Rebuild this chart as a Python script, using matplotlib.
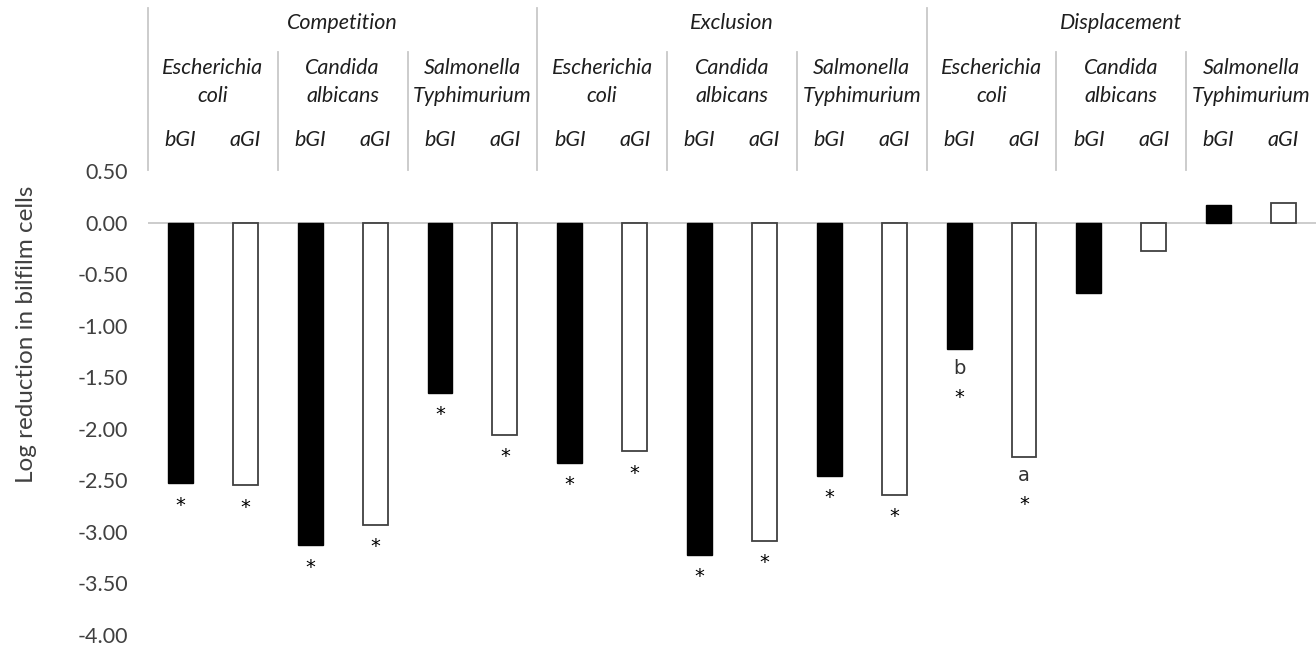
import matplotlib
matplotlib.use("Agg")
import matplotlib.pyplot as plt
import matplotlib.transforms as mtransforms
import numpy as np

plt.rcParams['font.family'] = ['Lato', 'DejaVu Sans']

# ---- data ----
treatments = ["Competition", "Exclusion", "Displacement"]
species = ["Escherichia\ncoli", "Candida\nalbicans", "Salmonella\nTyphimurium"]
conditions = ["bGI", "aGI"]
bgi_values = [-2.53, -3.13, -1.65, -2.33, -3.22, -2.46, -1.23, -0.68, 0.17]
agi_values = [-2.55, -2.93, -2.06, -2.22, -3.09, -2.64, -2.27, -0.28, 0.19]
bgi_star = [True, True, True, True, True, True, True, False, False]
agi_star = [True, True, True, True, True, True, True, False, False]
bgi_letter = ["", "", "", "", "", "", "b", "", ""]
agi_letter = ["", "", "", "", "", "", "a", "", ""]
y_label = "Log reduction in bilfilm cells"
y_ticks = [0.5, 0.0, -0.5, -1.0, -1.5, -2.0, -2.5, -3.0, -3.5, -4.0]

W, H = 1316, 646
fig = plt.figure(figsize=(W / 100, H / 100), dpi=100)
ax_left, ax_right = 148 / W, 1.0
ax_top, ax_bot = 1 - 171 / H, 1 - 635 / H
ax = fig.add_axes([ax_left, ax_bot, ax_right - ax_left, ax_top - ax_bot])

n = len(bgi_values)
x_b = np.arange(n) * 2
x_a = x_b + 1
bw = 0.385
ax.bar(x_b, bgi_values, width=bw, color="black", edgecolor="black", linewidth=1.0, zorder=3)
ax.bar(x_a, agi_values, width=bw, color="white", edgecolor="#404040", linewidth=1.3, zorder=3)

ax.set_xlim(-0.5, 2 * n - 0.5)
ax.set_ylim(-4.0, 0.5)
ax.set_yticks(y_ticks)
ax.set_yticklabels([f"{t:.2f}" for t in y_ticks])
ax.tick_params(axis='y', length=0, labelsize=15.5, labelcolor="#404040", pad=14.5)
ax.set_xticks([])
for s in ax.spines.values():
    s.set_visible(False)
ax.axhline(0, color="#c8c8c8", linewidth=1.3, zorder=2)
fig.text(27 / W, 1 - 334 / H, y_label, rotation=90, ha="center", va="center",
         fontsize=17.5, color="#404040")

def mark(x, v, star, letter):
    off = 0
    if letter:
        ax.annotate(letter, (x, v), xytext=(0, -19 * 0.72), textcoords="offset points",
                    ha="center", va="center", fontsize=14, color="#333333",
                    family="DejaVu Sans", annotation_clip=False)
        off = 26
    if star:
        ax.annotate("*", (x, v), xytext=(0, -(19 + off) * 0.72 - 2), textcoords="offset points",
                    ha="center", va="center", fontsize=14, color="black",
                    family="DejaVu Sans", annotation_clip=False)

for i in range(n):
    mark(x_b[i], bgi_values[i], bgi_star[i], bgi_letter[i])
    mark(x_a[i], agi_values[i], agi_star[i], agi_letter[i])

# ---- header ----
trans = mtransforms.blended_transform_factory(ax.transData, fig.transFigure)
def fy(py):
    return 1 - py / H

line_col = "#c8c8c8"
hdr_col = "#1e1e1e"
hfs = 15.5
for k, tname in enumerate(treatments):
    x0 = k * 6 - 0.5
    ax.plot([x0, x0], [fy(8), fy(170)], transform=trans, color=line_col, lw=1.3, clip_on=False)
    ax.text(x0 + 3, fy(23), tname, transform=trans, ha="center", va="center",
            fontsize=hfs, style="italic", color=hdr_col)
    for j, sp in enumerate(species):
        xs = x0 + 2 * j
        if j > 0:
            ax.plot([xs, xs], [fy(52), fy(170)], transform=trans, color=line_col, lw=1.3, clip_on=False)
        l1, l2 = sp.split("\n")
        ax.text(xs + 1, fy(68), l1, transform=trans, ha="center", va="center",
                fontsize=hfs, style="italic", color=hdr_col)
        ax.text(xs + 1, fy(96), l2, transform=trans, ha="center", va="center",
                fontsize=hfs, style="italic", color=hdr_col)
        for c, cond in enumerate(conditions):
            ax.text(xs + 0.5 + c, fy(140), cond, transform=trans, ha="center", va="center",
                    fontsize=hfs, style="italic", color=hdr_col)

fig.savefig("out.png", dpi=100)
